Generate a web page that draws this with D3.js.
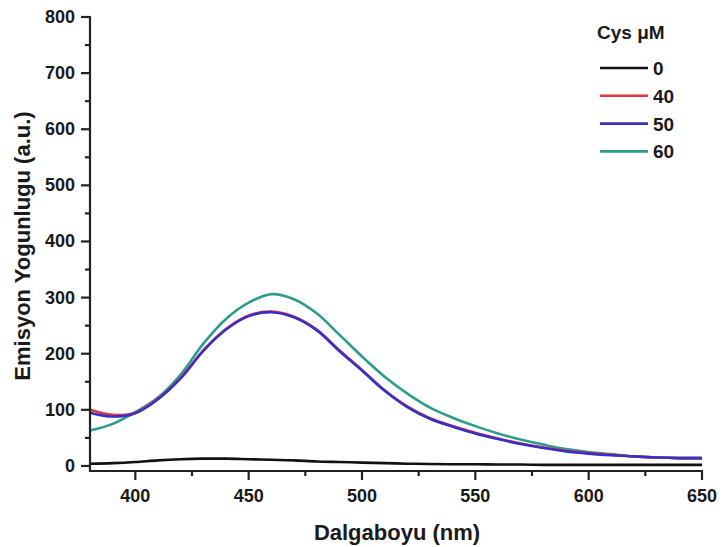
<!DOCTYPE html>
<html><head><meta charset="utf-8">
<script src="https://cdn.jsdelivr.net/npm/d3@7"></script>
<style>body{margin:0;background:#fff}svg{display:block}text{font-family:"Liberation Sans",Arial,sans-serif;font-weight:bold;fill:#1a1a1a}</style>
</head><body>
<svg id="c" width="722" height="547"></svg>
<script>
const wavelengths = [380,390,400,410,420,430,440,450,460,470,480,490,500,510,520,530,540,550,560,570,580,590,600,610,620,630,640,650];
const cys0  = [4,5,7,10,12,13,13,12,11,10,8,7,6,5,4,3.5,3,3,2.5,2.5,2,2,2,2,2,2,2,2];
const cys40 = [100,91,95,120,157,206,244,268,275,266,243,206,171,135,106,85,71,59,49,40,33,27,23,20,17,15,14,14];
const cys50 = [95,88,94,119,156,205,243,267,274,265,242,205,170,134,105,84,70,58,48,39,32,26,22,19,17,15,14,14];
const cys60 = [63,75,96,122,163,218,262,291,306,297,272,234,195,159,129,104,86,71,58,47,38,30,25,21,17,15,14,14];
const seriesNames = ["0","40","50","60"];
const seriesColors = ["#111111","#e0363c","#3a2fc4","#2e9c8c"];
const xTicks = [400,450,500,550,600,650];
const yTicks = [0,100,200,300,400,500,600,700,800];
const xTitle = "Dalgaboyu (nm)";
const yTitle = "Emisyon Yogunlugu (a.u.)";
const legendTitle = "Cys \u03BCM";

const svg = d3.select("#c");
const x = d3.scaleLinear().domain([380,650]).range([90,702]);
const y = d3.scaleLinear().domain([-9,800]).range([471,17]);

const series = [cys0,cys40,cys50,cys60];
const line = d3.line().x((d,i)=>x(wavelengths[i])).y(d=>y(d)).curve(d3.curveCatmullRom.alpha(0.5));

const order = [0,3,1,2];
order.forEach(k=>{
  svg.append("path").datum(series[k]).attr("d",line)
    .attr("fill","none").attr("stroke",seriesColors[k]).attr("stroke-width",2.6);
});

// axes
const xAxis = svg.append("g").attr("transform","translate(0,471)");
xAxis.append("line").attr("x1",89).attr("x2",703).attr("stroke","#222").attr("stroke-width",2.2);
d3.range(400,651,25).forEach(v=>{
  const major = v%50===0;
  xAxis.append("line").attr("x1",x(v)).attr("x2",x(v)).attr("y1",0).attr("y2",major?9:5)
    .attr("stroke","#222").attr("stroke-width",2.2);
});
xTicks.forEach(v=>{
  xAxis.append("text").attr("x",x(v)).attr("y",31).attr("text-anchor","middle")
    .attr("font-size",18).text(v);
});
const yAxis = svg.append("g").attr("transform","translate(90,0)");
yAxis.append("line").attr("y1",16).attr("y2",472).attr("stroke","#222").attr("stroke-width",2.2);
d3.range(0,801,50).forEach(v=>{
  const major = v%100===0;
  yAxis.append("line").attr("x1",0).attr("x2",major?-9:-5).attr("y1",y(v)).attr("y2",y(v))
    .attr("stroke","#222").attr("stroke-width",2.2);
});
yTicks.forEach(v=>{
  yAxis.append("text").attr("x",-15).attr("y",y(v)+6).attr("text-anchor","end")
    .attr("font-size",18).text(v);
});
svg.append("text").attr("x",397).attr("y",540).attr("text-anchor","middle").attr("font-size",22).text(xTitle);
svg.append("text").attr("transform","translate(30,246) rotate(-90)").attr("text-anchor","middle").attr("font-size",22).text(yTitle);

// legend
const lg = svg.append("g");
lg.append("text").attr("x",597).attr("y",39).attr("font-size",19).text(legendTitle);
seriesNames.forEach((n,i)=>{
  const yy = 68 + i*27.8;
  lg.append("line").attr("x1",600).attr("x2",648).attr("y1",yy).attr("y2",yy)
    .attr("stroke",seriesColors[i]).attr("stroke-width",2.6);
  lg.append("text").attr("x",653).attr("y",yy+7).attr("font-size",19).text(n);
});
</script>
</body></html>
